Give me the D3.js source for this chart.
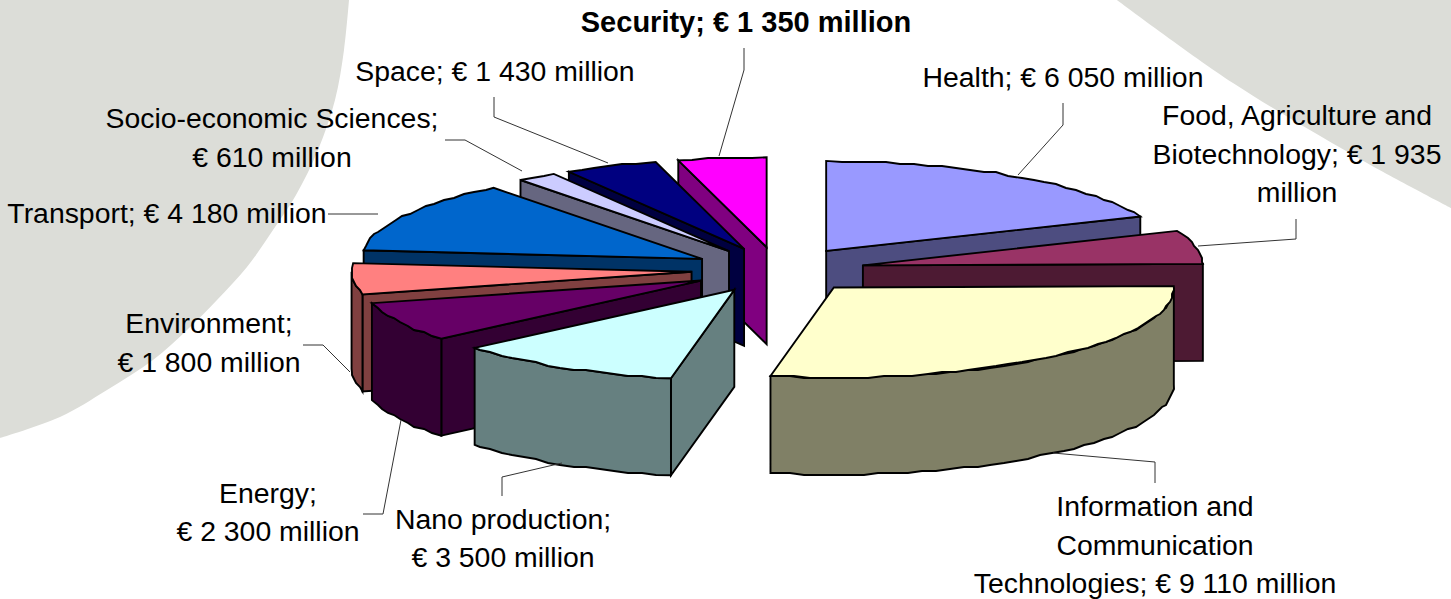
<!DOCTYPE html>
<html lang="en">

<head>
    <meta charset="UTF-8">
    <title>FP7 budget by theme</title>
    <script src="https://cdn.jsdelivr.net/npm/d3@7"></script>
    <style>
        * {
            margin: 0;
            padding: 0;
        }

        body {
            background: #fff;
            overflow: hidden;
        }

        text {
            font-family: "Liberation Sans", Arial, sans-serif;
            font-size: 28.4px;
            fill: #000;
        }
    </style>
</head>

<body>
    <script>
        // data, clockwise from 12 o'clock
        const themes = ['Health', 'Food', 'ICT', 'Nano', 'Energy', 'Environment', 'Transport', 'Socio', 'Space', 'Security'];
        const budgets = [6050, 1935, 9110, 3500, 2300, 1800, 4180, 610, 1430, 1350];
        const topColors = ['#9999ff', '#993366', '#ffffcc', '#ccffff', '#660066', '#ff8080', '#0066cc', '#ccccff', '#000080', '#ff00ff'];
        const labelLines = [
            ['Health; € 6 050 million'],
            ['Food, Agriculture and', 'Biotechnology; € 1 935', 'million'],
            ['Information and', 'Communication', 'Technologies; € 9 110 million'],
            ['Nano production;', '€ 3 500 million'],
            ['Energy;', '€ 2 300 million'],
            ['Environment;', '€ 1 800 million'],
            ['Transport; € 4 180 million'],
            ['Socio-economic Sciences;', '€ 610 million'],
            ['Space; € 1 430 million'],
            ['Security; € 1 350 million']
        ];

        // layout of the labels and leader lines, same order as above
        const labelCenters = [1063, 1297, 1155, 503, 268, 209, 167, 272, 495, 746];
        const labelBaselines = [87, 125, 516, 529, 503, 333, 223, 128, 81, 32];
        const lineGaps = [38, 38.5, 38.5, 38, 38, 38.5, 38, 38.5, 38, 38];
        const leaders = [
            [[1063, 103], [1063, 125], [1018, 175]],
            [[1296, 219], [1296, 239], [1198, 246]],
            [[1155, 483], [1155, 462], [1053, 453]],
            [[502, 496], [502, 477], [562, 463]],
            [[363, 514], [383, 514], [401, 420]],
            [[303, 345], [323, 345], [350, 372]],
            [[328, 214], [378, 214]],
            [[445, 140], [465, 140], [522, 171]],
            [[494, 97], [494, 117], [608, 163]],
            [[744, 48], [744, 70], [719, 156]]
        ];

        const width = 1451;
        const height = 599;
        const rimStep = 2.5 * Math.PI / 180;
        const explode = 0.255;
        const depth = 97;

        const svg = d3.select('body').append('svg').attr('width', width).attr('height', height);

        // grey blobs of the slide background
        const blob = d3.line().curve(d3.curveCatmullRom);
        const bg = svg.append('g').attr('fill', '#dcddd8');
        bg.append('path').attr('d', blob([[349, 0], [344, 50], [335, 100], [318, 150], [296, 195], [273, 230], [247, 267], [217, 300], [187, 330], [153, 360], [107, 390], [60, 417], [0, 438]]) + `L0,0Z`);
        bg.append('path').attr('d', blob([[1117, 0], [1233, 83], [1367, 163], [1451, 208]]) + `L${width},0Z`);

        // unit circle -> screen, flattened to get the tilted look
        const xScale = d3.scaleLinear().domain([-1, 1]).range([438, 1118]);
        const yScale = d3.scaleLinear().domain([-1, 1]).range([180, 360]);

        const pie = d3.pie().sort(null).value((d) => d.value);
        const slices = pie(themes.map((name, i) => ({ name, value: budgets[i], color: topColors[i], index: i })));

        const line = d3.line();
        const closed = (pts) => line(pts) + 'Z';

        const onRim = (s, a) => {
            const mid = (s.startAngle + s.endAngle) / 2;
            return [
                xScale(explode * Math.sin(mid) + Math.sin(a)),
                yScale(-explode * Math.cos(mid) - Math.cos(a))
            ];
        };
        const apex = (s) => {
            const mid = (s.startAngle + s.endAngle) / 2;
            return [xScale(explode * Math.sin(mid)), yScale(-explode * Math.cos(mid))];
        };
        const down = (p) => [p[0], p[1] + depth];

        // the source chart has a jagged low-res rim, so snap the inner points to a coarse grid
        const rim = (s, a0, a1) => {
            const pts = [onRim(s, a0)];
            for (let a = a0 + rimStep; a < a1 - rimStep / 2; a += rimStep) {
                const p = onRim(s, a);
                pts.push([Math.round(p[0] / 2) * 2, Math.round(p[1] / 2) * 2]);
            }
            pts.push(onRim(s, a1));
            return pts;
        };

        // back to front
        const ordered = slices.slice().sort((a, b) =>
            Math.cos((b.startAngle + b.endAngle) / 2) - Math.cos((a.startAngle + a.endAngle) / 2));

        const pieG = svg.append('g')
            .attr('stroke', '#000')
            .attr('stroke-width', 1.9)
            .attr('stroke-linejoin', 'miter');

        ordered.forEach((s) => {
            const g = pieG.append('g');
            const c = d3.rgb(s.data.color);
            const side = d3.rgb(c.r / 2, c.g / 2, c.b / 2).formatHex();
            const a = apex(s);

            // only the cut face turned towards the viewer is drawn
            const cuts = [];
            if (Math.sin(s.startAngle) < 0) cuts.push(s.startAngle);
            if (Math.sin(s.endAngle) > 0) cuts.push(s.endAngle);
            cuts.forEach((ang) => {
                const r = onRim(s, ang);
                g.append('path').attr('fill', side).attr('d', closed([a, r, down(r), down(a)]));
            });

            // outer wall, front half only
            const w0 = Math.max(s.startAngle, Math.PI / 2);
            const w1 = Math.min(s.endAngle, Math.PI * 1.5);
            if (w1 > w0) {
                const edge = rim(s, w0, w1);
                g.append('path').attr('fill', side)
                    .attr('d', closed(edge.concat(edge.slice().reverse().map(down))));
            }

            g.append('path').attr('fill', s.data.color)
                .attr('d', closed([a].concat(rim(s, s.startAngle, s.endAngle))));
        });

        // leader lines
        svg.append('g')
            .attr('fill', 'none')
            .attr('stroke', '#333')
            .attr('stroke-width', 1)
            .selectAll('path')
            .data(leaders)
            .join('path')
            .attr('d', (d) => line(d));

        // labels
        svg.append('g')
            .selectAll('text')
            .data(slices)
            .join('text')
            .attr('text-anchor', 'middle')
            .attr('font-weight', (d) => d.data.name === 'Security' ? 'bold' : null)
            .style('font-size', (d) => d.data.name === 'Security' ? '29px' : null)
            .each(function (d) {
                const i = d.data.index;
                d3.select(this).selectAll('tspan')
                    .data(labelLines[i])
                    .join('tspan')
                    .attr('x', labelCenters[i])
                    .attr('y', (t, j) => labelBaselines[i] + j * lineGaps[i])
                    .text((t) => t);
            });
    </script>
</body>

</html>
